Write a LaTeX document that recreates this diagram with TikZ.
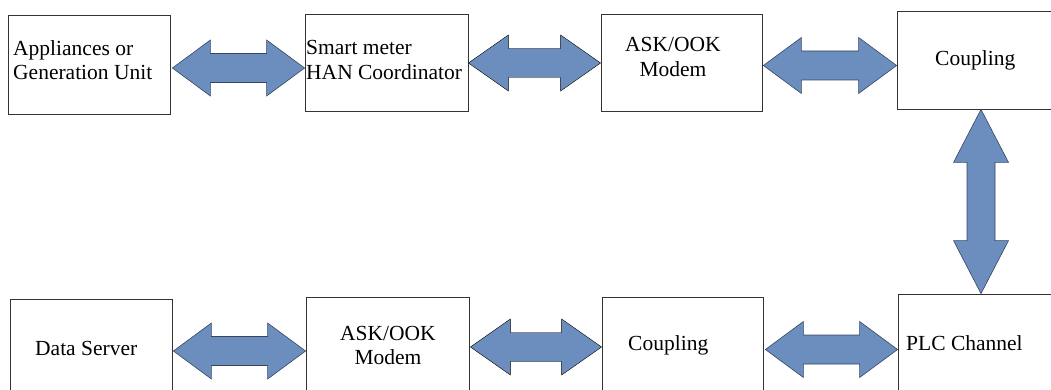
\documentclass[tikz,border=0pt]{standalone}
\usepackage{fontspec}
\setmainfont{Liberation Serif}
\usetikzlibrary{calc}
\definecolor{arrfill}{RGB}{108,142,190}
\definecolor{arredge}{RGB}{52,70,98}
\newcommand{\harrow}[4]{
    \draw[#1] let \p1=(#2), \p2=(#3) in
        (\x1,\y1) -- (\x1+#4,\y1+28pt) -- (\x1+#4,\y1+14.5pt) -- (\x2-#4,\y1+14.5pt)
        -- (\x2-#4,\y1+28pt) -- (\x2,\y1) -- (\x2-#4,\y1-28pt) -- (\x2-#4,\y1-14.5pt)
        -- (\x1+#4,\y1-14.5pt) -- (\x1+#4,\y1-28pt) -- cycle;
}
\newcommand{\varrow}[3]{
    \draw[#1] let \p1=(#2), \p2=(#3) in
        (\x1,\y1) -- (\x1+27.5pt,\y1-53pt) -- (\x1+14pt,\y1-53pt) -- (\x1+14pt,\y2+53pt)
        -- (\x1+27.5pt,\y2+53pt) -- (\x1,\y2) -- (\x1-27.5pt,\y2+53pt) -- (\x1-14pt,\y2+53pt)
        -- (\x1-14pt,\y1-53pt) -- (\x1-27.5pt,\y1-53pt) -- cycle;
}
\begin{document}
\begin{tikzpicture}[x=1pt,y=-1pt,
        box/.style={draw=black!80, line width=0.8pt, inner sep=0pt},
        ltxt/.style={anchor=west, inner sep=0pt, align=left, font=\fontsize{21.5}{24.5}\selectfont},
        ctxt/.style={ltxt, align=center},
        arr/.style={fill=arrfill, draw=arredge, line width=0.6pt},
        arrflat/.style={fill=arrfill}]
        \useasboundingbox (0,0) rectangle (1051,390);
        \foreach \x/\y/\w/\h/\n in {89.25/64.5/161.5/99/app,386.5/62.5/163/97/han,681.5/62.5/161/97/modem1,975/60/156/98/coup1,
            91/348/162/98/server,387.5/346/163/98/modem2,682.5/346/161/98/coup2,975.5/344/155/100/plc}{
            \node[box, minimum width=\w, minimum height=\h] (\n) at (\x,\y) {};
        }
        \foreach \x/\y/\n/\s/\l in {13/60/tapp/ltxt/{Appliances or\\Generation Unit},306/60/than/ltxt/{Smart meter\\HAN Coordinator},
            625/57/tmodem1/ctxt/{ASK/OOK\\Modem},935/60/tcoup1/ctxt/Coupling,35/348.6/tserver/ctxt/Data Server,
            340/345.3/tmodem2/ctxt/{ASK/OOK\\Modem},628/345/tcoup2/ctxt/Coupling,906/342.7/tplc/ctxt/PLC Channel}{
            \node[\s] (\n) at (\x,\y) {\l};
        }
        \harrow{arr}{[xshift=2pt,yshift=-3.5pt]app.east}{han.west}{38pt}
        \harrow{arrflat}{[yshift=-0.5pt]han.east}{modem1.west}{40pt}
        \harrow{arr}{[xshift=1pt,yshift=-3pt]modem1.east}{coup1.west}{38pt}
        \varrow{arr}{[xshift=6pt]coup1.south}{[xshift=6pt]plc.north}
        \harrow{arr}{[xshift=1pt,yshift=-3pt]server.east}{modem2.west}{38pt}
        \harrow{arrflat}{[xshift=1pt,yshift=-1pt]modem2.east}{coup2.west}{40pt}
        \harrow{arr}{[xshift=2pt,yshift=-3.5pt]coup2.east}{plc.west}{38pt}
    \end{tikzpicture}
\end{document}
